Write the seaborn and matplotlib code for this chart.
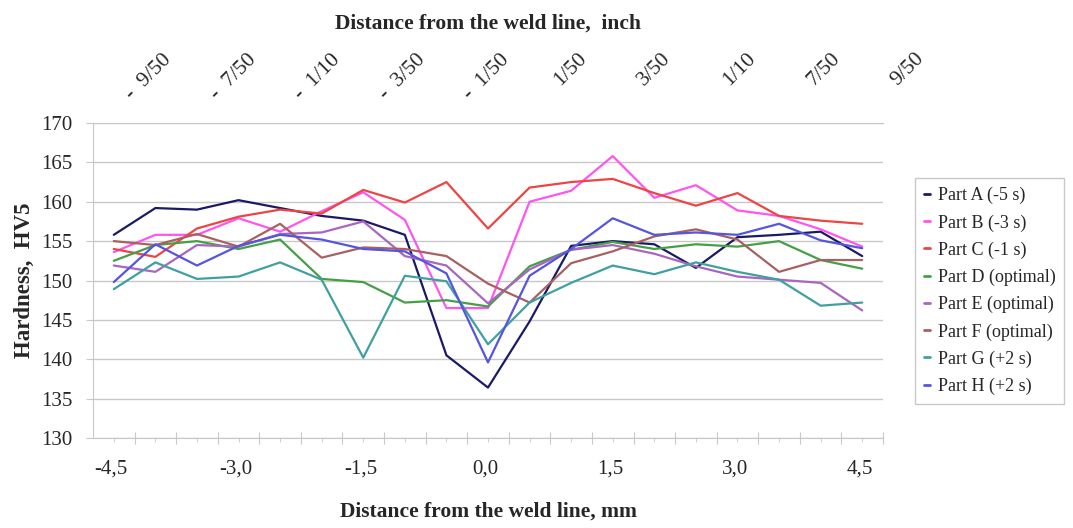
import numpy as np
import pandas as pd
import matplotlib
matplotlib.use('Agg')
import matplotlib.pyplot as plt
import matplotlib.transforms as mtransforms
from matplotlib.ticker import FixedLocator, MultipleLocator
import seaborn as sns

# Dados (dureza HV5 por posição, mm)
distance_mm = [-4.5, -4.0, -3.5, -3.0, -2.5, -2.0, -1.5, -1.0, -0.5, 0.0,
               0.5, 1.0, 1.5, 2.0, 2.5, 3.0, 3.5, 4.0, 4.5]

part_a = [155.8, 159.2, 159.0, 160.2, 159.2, 158.2, 157.6, 155.8, 140.5, 136.4,
          144.8, 154.4, 155.0, 154.6, 151.6, 155.5, 155.8, 156.2, 153.1]
part_b = [153.6, 155.8, 155.8, 157.9, 156.2, 158.8, 161.2, 157.7, 146.5, 146.5,
          160.0, 161.4, 165.8, 160.5, 162.1, 158.9, 158.2, 156.5, 154.3]
part_c = [154.0, 153.0, 156.6, 158.1, 159.0, 158.5, 161.5, 159.9, 162.5, 156.6,
          161.8, 162.5, 162.9, 161.1, 159.5, 161.1, 158.2, 157.6, 157.2]
part_d = [152.5, 154.5, 155.0, 154.0, 155.2, 150.2, 149.8, 147.2, 147.5, 146.7,
          151.8, 153.9, 154.9, 154.0, 154.6, 154.3, 155.0, 152.6, 151.5]
part_e = [151.9, 151.1, 154.5, 154.3, 155.9, 156.1, 157.5, 153.1, 151.9, 147.1,
          151.4, 153.9, 154.5, 153.4, 151.8, 150.5, 150.1, 149.7, 146.2]
part_f = [155.0, 154.5, 155.9, 154.3, 157.2, 152.9, 154.2, 154.0, 153.1, 149.6,
          147.2, 152.2, 153.7, 155.6, 156.5, 155.2, 151.1, 152.6, 152.6]
part_g = [148.9, 152.3, 150.2, 150.5, 152.3, 150.1, 140.2, 150.6, 149.9, 141.9,
          147.2, 149.7, 151.9, 150.8, 152.3, 151.1, 150.1, 146.8, 147.2]
part_h = [149.8, 154.6, 151.9, 154.4, 155.8, 155.2, 154.0, 153.7, 150.9, 139.6,
          150.6, 154.0, 157.9, 155.8, 156.1, 155.8, 157.2, 155.1, 154.1]

part_labels = ['Part A (-5 s)', 'Part B (-3 s)', 'Part C (-1 s)', 'Part D (optimal)',
               'Part E (optimal)', 'Part F (optimal)', 'Part G (+2 s)', 'Part H (+2 s)']
part_colors = ['#1a1a66', '#ff55ee', '#ee4444', '#44a044',
               '#a866c0', '#a86060', '#40a0a0', '#5555dd']

x_ticks_mm = [-4.5, -3.0, -1.5, 0.0, 1.5, 3.0, 4.5]
x_ticklabels_mm = ['-4,5', '-3,0', '-1,5', '0,0', '1,5', '3,0', '4,5']
inch_values = [-0.18, -0.14, -0.10, -0.06, -0.02, 0.02, 0.06, 0.10, 0.14, 0.18]
inch_labels = ['-  9/50', '-  7/50', '-  1/10', '-  3/50', '-  1/50',
               '1/50', '3/50', '1/10', '7/50', '9/50']


def build_frame():
    series = [part_a, part_b, part_c, part_d, part_e, part_f, part_g, part_h]
    rows = []
    for label, values in zip(part_labels, series):
        for x, v in zip(distance_mm, values):
            rows.append({'mm': x, 'hv': v, 'part': label})
    return pd.DataFrame(rows)


def main():
    sns.set_style('white')
    plt.rcParams['font.family'] = ['Liberation Serif', 'DejaVu Serif']

    df = build_frame()
    grid_color = '#c8c8c8'

    fig = plt.figure(figsize=(10.73, 5.28), dpi=100)
    ax = fig.add_axes([93 / 1073, 1 - 438 / 528, 790 / 1073, 315 / 528])

    sns.lineplot(data=df, x='mm', y='hv', hue='part', hue_order=part_labels,
                 palette=dict(zip(part_labels, part_colors)), linewidth=1.6,
                 ax=ax, legend=False)

    ax.set_xlim(-4.75, 4.75)
    ax.set_ylim(130, 170)
    ax.yaxis.set_major_locator(MultipleLocator(5))
    ax.grid(axis='y', color=grid_color, linewidth=1.0)
    ax.set_axisbelow(True)

    ax.xaxis.set_major_locator(FixedLocator(np.arange(-4.25, 4.76, 0.5)))
    ax.xaxis.set_minor_locator(FixedLocator(distance_mm))
    ax.set_xticklabels([])
    ax.tick_params(axis='x', which='major', direction='inout', length=9,
                   color=grid_color, top=True, bottom=True)
    ax.tick_params(axis='x', which='minor', direction='out', length=3,
                   color=grid_color, top=True, bottom=True)
    ax.tick_params(axis='y', which='major', direction='out', length=5,
                   color=grid_color, left=True, labelsize=15, pad=10)

    for side in ['left', 'top', 'bottom']:
        ax.spines[side].set_color(grid_color)
    ax.spines['right'].set_visible(False)

    # rótulos do eixo inferior (mm)
    for x, txt in zip(x_ticks_mm, x_ticklabels_mm):
        ax.annotate(txt, xy=(x, 0), xycoords=('data', 'axes fraction'),
                    xytext=(-2, -22), textcoords='offset points',
                    ha='center', va='center', fontsize=15)

    ax.set_xlabel('Distance from the weld line, mm', fontsize=15.5,
                  fontweight='bold', labelpad=38)
    ax.set_ylabel('Hardness,  HV5', fontsize=16.5, fontweight='bold', labelpad=4)

    # eixo superior em polegadas
    ax2 = ax.twiny()
    ax2.set_xlim(ax.get_xlim())
    ax2.set_xticks([v * 25.4 for v in inch_values])
    ax2.set_xticklabels(inch_labels, rotation=45, ha='left', va='bottom',
                        rotation_mode='anchor', fontsize=15.5)
    ax2.tick_params(axis='x', length=0, pad=26)
    for val, lbl in zip(inch_values, ax2.get_xticklabels()):
        if val < 0:
            dx, dy = 0.28, -0.17
        else:
            dx, dy = 0.33, -0.03
        offset = mtransforms.ScaledTranslation(dx, dy, fig.dpi_scale_trans)
        lbl.set_transform(lbl.get_transform() + offset)
    for side in ax2.spines:
        ax2.spines[side].set_visible(False)
    ax2.set_xlabel('Distance from the weld line,  inch', fontsize=15.5,
                   fontweight='bold')
    ax2.xaxis.set_label_coords(0.5, 1.30)

    handles = [plt.Line2D([], [], color=c, linewidth=2) for c in part_colors]
    leg = fig.legend(handles, part_labels, loc='upper left',
                     bbox_to_anchor=(915 / 1073, 1 - 178 / 528),
                     frameon=True, fancybox=False, fontsize=13,
                     handlelength=0.35, handletextpad=0.4,
                     labelspacing=0.55, borderpad=0.5, borderaxespad=0)
    leg.get_frame().set_edgecolor('#bbbbbb')
    leg.get_frame().set_linewidth(1.0)

    plt.savefig('out.png', dpi=100)


if __name__ == "__main__":
    main()
